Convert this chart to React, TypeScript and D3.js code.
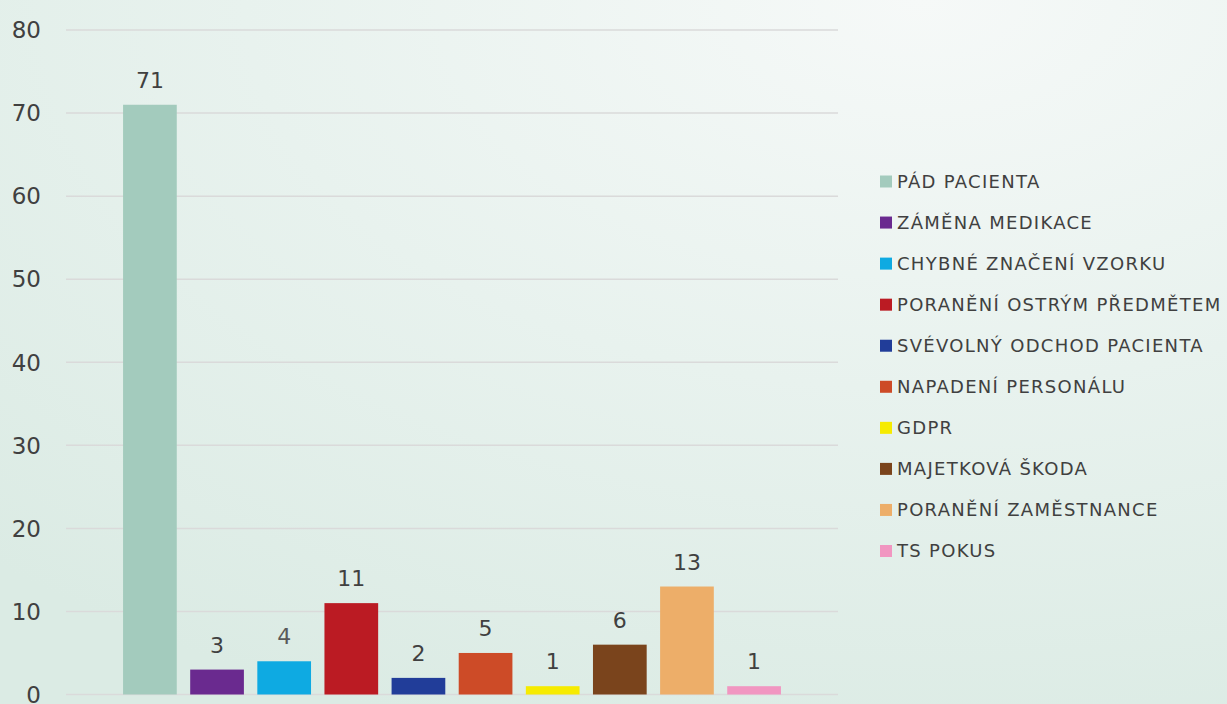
import React from 'react';
import * as d3 from 'd3';

const categories = [
  'PÁD PACIENTA',
  'ZÁMĚNA MEDIKACE',
  'CHYBNÉ ZNAČENÍ VZORKU',
  'PORANĚNÍ OSTRÝM PŘEDMĚTEM',
  'SVÉVOLNÝ ODCHOD PACIENTA',
  'NAPADENÍ PERSONÁLU',
  'GDPR',
  'MAJETKOVÁ ŠKODA',
  'PORANĚNÍ ZAMĚSTNANCE',
  'TS POKUS',
];
const values = [71, 3, 4, 11, 2, 5, 1, 6, 13, 1];
const colors = [
  '#a3cbbd', '#6a2a8f', '#0eaae2', '#bb1b23', '#213d99',
  '#cd4b27', '#f6eb00', '#7a441c', '#edae69', '#f196c1',
];
const yTicks = [0, 10, 20, 30, 40, 50, 60, 70, 80];

const width = 1227;
const height = 704;
const font = '"DejaVu Sans", sans-serif';
const textColor = '#404040';

const App: React.FC = () => {
  const x = d3.scaleBand<string>()
    .domain(categories)
    .range([66, 838])
    .paddingInner(0.2)
    .paddingOuter(0.85);

  const y = d3.scaleLinear()
    .domain([0, 80])
    .range([694.5, 30]);

  const legendY = d3.scalePoint<string>()
    .domain(categories)
    .range([181.5, 551]);

  const color = d3.scaleOrdinal<string, string>().domain(categories).range(colors);

  return (
    <svg width={width} height={height} style={{ position: 'absolute', left: 0, top: 0, display: 'block' }}>
      <defs>
        <radialGradient id="bg" cx="0.75" cy="0" r="1.1">
          <stop offset="0" stopColor="#f6f9f8" />
          <stop offset="0.5" stopColor="#e8f2ee" />
          <stop offset="1" stopColor="#dbebe4" />
        </radialGradient>
      </defs>
      <rect width={width} height={height} fill="url(#bg)" />

      {yTicks.map(t => (
        <g key={t}>
          <line x1={66} x2={838} y1={y(t)} y2={y(t)} stroke="#dadada" strokeWidth={1.5} />
          <text x={41} y={y(t)} dy="0.36em" textAnchor="end" fontFamily={font} fontSize={23} fill={textColor}>
            {t}
          </text>
        </g>
      ))}

      {categories.map((c, i) => (
        <g key={c}>
          <rect
            x={x(c)}
            y={y(values[i])}
            width={x.bandwidth()}
            height={y(0) - y(values[i])}
            fill={color(c)}
          />
          <text
            x={(x(c) ?? 0) + x.bandwidth() / 2}
            y={y(values[i]) - 17}
            textAnchor="middle"
            fontFamily={font}
            fontSize={22}
            fill={i === 2 ? '#5a5a5a' : textColor}
          >
            {values[i]}
          </text>
        </g>
      ))}

      {categories.map(c => (
        <g key={'lg' + c} transform={`translate(880, ${legendY(c)})`}>
          <rect x={0} y={-6} width={12} height={12} fill={color(c)} />
          <text x={17} y={0} dy="0.36em" fontFamily={font} fontSize={18} letterSpacing={1.3} fill={textColor}>
            {c}
          </text>
        </g>
      ))}
    </svg>
  );
};

export default App;
